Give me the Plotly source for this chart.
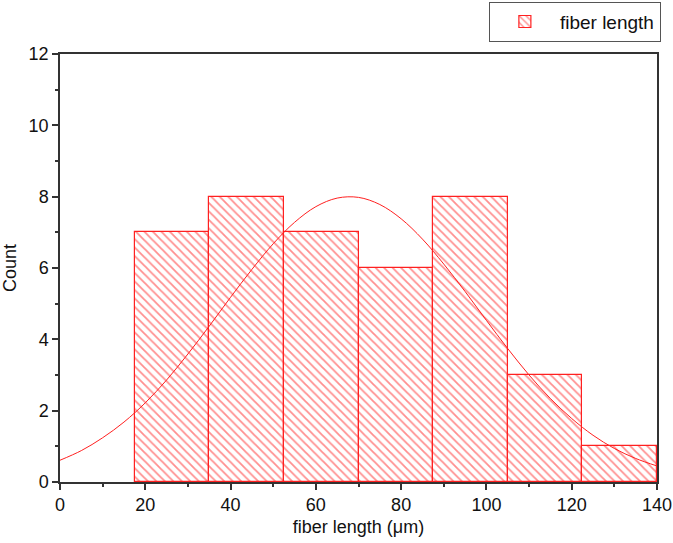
import plotly.graph_objects as go

# Histogram data
bin_centers = [26.25, 43.75, 61.25, 78.75, 96.25, 113.75, 131.25]
counts = [7, 8, 7, 6, 8, 3, 1]
bin_width = 17.5

# Fitted curve points
curve_x = [0, 5, 10, 15, 20, 25, 30, 35, 40, 45, 50, 55, 60, 65, 70, 75, 80, 85, 90, 95, 100, 105, 110, 115, 120, 125, 130, 135, 140]
curve_y = [0.61, 0.88, 1.24, 1.68, 2.22, 2.86, 3.59, 4.37, 5.18, 5.96, 6.68, 7.28, 7.72, 7.96, 7.98, 7.78, 7.38, 6.81, 6.11, 5.34, 4.53, 3.74, 3.00, 2.34, 1.78, 1.31, 0.94, 0.66, 0.45]

RED = "#ff2020"

fig = go.Figure()
fig.add_trace(go.Bar(
    x=bin_centers, y=counts, width=[bin_width] * len(counts),
    name="fiber length",
    marker=dict(color="white", line=dict(color=RED, width=1.2),
                pattern=dict(shape="\\", fgcolor=RED, bgcolor="white", size=6, solidity=0.3)),
    showlegend=True,
))
fig.add_trace(go.Scatter(
    x=curve_x, y=curve_y, mode="lines", line=dict(color=RED, width=1, shape="spline"),
    showlegend=False, hoverinfo="skip",
))

axis_common = dict(
    showline=True, linecolor="#333333", linewidth=1.5, mirror=True,
    ticks="outside", ticklen=6, tickwidth=1.5, tickcolor="#333333",
    showgrid=False, zeroline=False,
    tickfont=dict(family="Liberation Sans, Arial", size=18, color="#111111"),
)

fig.update_layout(
    width=673, height=543,
    margin=dict(l=60, r=16, t=54, b=61, autoexpand=False),
    plot_bgcolor="white", paper_bgcolor="white",
    bargap=0,
    font=dict(family="Liberation Sans, Arial", color="#111111"),
    xaxis=dict(range=[0, 140], dtick=20, tick0=0,
               minor=dict(dtick=10, ticks="outside", ticklen=3, tickcolor="#333333"),
               title=dict(text="fiber length (μm)", font=dict(size=18), standoff=6),
               **axis_common),
    yaxis=dict(range=[0, 12], dtick=2, tick0=0,
               minor=dict(dtick=1, ticks="outside", ticklen=3, tickcolor="#333333"),
               title=dict(text="Count", font=dict(size=18), standoff=12),
               **axis_common),
    legend=dict(xref="container", yref="container",
                x=0.982, y=0.997, xanchor="right", yanchor="top",
                bordercolor="#555555", borderwidth=1, bgcolor="white",
                font=dict(size=19, family="Liberation Sans, Arial"),
                itemwidth=60),
)

fig.write_html("out.html")
